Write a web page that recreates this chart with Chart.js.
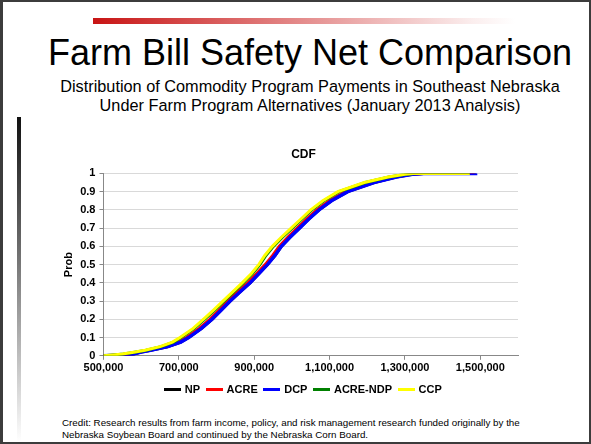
<!DOCTYPE html>
<html>
<head>
<meta charset="utf-8">
<script src="https://cdn.jsdelivr.net/npm/chart.js@4"></script>
<style>
    html, body { margin: 0; padding: 0; background: #fff; }
    body { width: 591px; height: 444px; position: relative; overflow: hidden; font-family: "Liberation Sans", Arial, sans-serif; }
    .slide { position: absolute; left: 0; top: 0; width: 591px; height: 444px; box-sizing: border-box; border: 2px solid #3c3c3c; border-left-width: 3px; }
    .red-bar { position: absolute; left: 93px; top: 18px; width: 422px; height: 6px; background: linear-gradient(to right, #c81414, #fbeeee 90%, #ffffff); }
    .side-bar { position: absolute; left: 17px; top: 117px; width: 4px; height: 325px; background: linear-gradient(to bottom, #111, #777 45%, #fff); }
    .title { position: absolute; left: 0; width: 620px; top: 32px; text-align: center; font-size: 36px; color: #000; white-space: nowrap; }
    .subtitle { position: absolute; left: 0; width: 620px; top: 77px; text-align: center; font-size: 16.3px; line-height: 18.8px; color: #000; white-space: nowrap; }
    .credit { position: absolute; left: 62px; top: 417px; font-size: 9.8px; line-height: 12px; color: #000; white-space: nowrap; }
    #wrap { position: absolute; left: 58px; top: 142px; width: 492px; height: 263px; }
</style>
</head>
<body>
<div class="slide"></div>
<div class="red-bar"></div>
<div class="side-bar"></div>
<div class="title">Farm Bill Safety Net Comparison</div>
<div class="subtitle">Distribution of Commodity Program Payments in Southeast Nebraska<br>Under Farm Program Alternatives (January 2013 Analysis)</div>
<div id="wrap"><canvas id="cdf"></canvas></div>
<div class="credit">Credit: Research results from farm income, policy, and risk management research funded originally by the<br>Nebraska Soybean Board and continued by the Nebraska Corn Board.</div>
<script>
// cumulative probability levels shared by every series
const PROB = [0, 0.005, 0.01, 0.02, 0.03, 0.05, 0.075, 0.1, 0.15, 0.2, 0.25, 0.3, 0.35, 0.4, 0.45, 0.5,
    0.55, 0.6, 0.65, 0.7, 0.75, 0.8, 0.85, 0.9, 0.95, 0.98, 0.995, 1, 1];

// payment ($) reached at each probability level
const NP = [500000, 560000, 580000, 600000, 625000, 670000, 705000, 726000, 760000, 788000, 812000, 836000, 862000, 889000, 912000, 935000,
    955000, 972000, 995000, 1020000, 1045000, 1072000, 1105000, 1148000, 1218000, 1277000, 1320000, 1350000, 1490000];
const ACRE = [500000, 555000, 575000, 596000, 620000, 665000, 700000, 720000, 754000, 782000, 806000, 830000, 856000, 883000, 906000, 929000,
    949000, 966000, 989000, 1014000, 1039000, 1066000, 1099000, 1142000, 1212000, 1272000, 1315000, 1345000, 1485000];
const DCP = [500000, 560000, 580000, 600000, 625000, 670000, 705000, 726000, 760000, 788000, 812000, 836000, 862000, 889000, 912000, 935000,
    955000, 972000, 995000, 1020000, 1045000, 1072000, 1105000, 1148000, 1218000, 1277000, 1320000, 1350000, 1492000];
const ACRE_NDP = [500000, 528000, 553000, 583000, 613000, 653000, 686000, 706000, 741000, 768000, 795000, 820000, 846000, 871000, 895000, 915000,
    931000, 951000, 975000, 1001000, 1027000, 1053000, 1085000, 1125000, 1195000, 1258000, 1303000, 1325000, 1472000];
const CCP = [500000, 525000, 550000, 580000, 610000, 650000, 683000, 703000, 738000, 765000, 792000, 817000, 843000, 868000, 892000, 912000,
    928000, 948000, 972000, 998000, 1024000, 1050000, 1082000, 1122000, 1192000, 1255000, 1300000, 1322000, 1472000];

const SERIES = ['NP', 'ACRE', 'DCP', 'ACRE-NDP', 'CCP'];
const X_TICKS = [500000, 700000, 900000, 1100000, 1300000, 1500000];
const Y_TICKS = [0, 0.1, 0.2, 0.3, 0.4, 0.5, 0.6, 0.7, 0.8, 0.9, 1];

const colors = ['#000000', '#ff0000', '#0000ff', '#008000', '#ffff00'];
const widths = [3, 3, 3.5, 3, 3];
const values = [NP, ACRE, DCP, ACRE_NDP, CCP];
const font = { family: '"Liberation Sans", Arial, sans-serif', weight: 'bold', size: 11 };

// small line swatches for the legend (17px long, sitting right against the label)
const swatches = colors.map(c => {
    const cv = document.createElement('canvas');
    cv.width = 17; cv.height = 3;
    const g = cv.getContext('2d');
    g.fillStyle = c;
    g.fillRect(0, 0, 17, 3);
    return cv;
});

const datasets = SERIES.map((name, i) => ({
    label: name,
    data: values[i].map((v, k) => ({ x: v, y: PROB[k] })),
    borderColor: colors[i],
    backgroundColor: colors[i],
    borderWidth: widths[i],
    pointRadius: 0,
    tension: 0,
    order: SERIES.length - i   // later series drawn on top, like the original
}));

// the Excel chart centres title and legend on the whole chart object, not the padded box
const recenter = {
    id: 'recenter',
    afterLayout(chart) {
        [chart.legend, chart.titleBlock].forEach(b => { if (b) { b.left += 14; b.right += 14; } });
    }
};

new Chart(document.getElementById('cdf'), {
    type: 'line',
    data: { datasets },
    plugins: [recenter],
    options: {
        responsive: true,
        maintainAspectRatio: false,
        animation: false,
        layout: { padding: { left: 3, right: 32, top: 0, bottom: 0 } },
        plugins: {
            title: { display: true, text: 'CDF', color: '#000', font: { ...font, size: 12 }, padding: { top: 5, bottom: 12 } },
            legend: {
                position: 'bottom',
                labels: {
                    color: '#000', font, usePointStyle: true, pointStyleWidth: 14,
                    padding: 7, boxHeight: 11,
                    sort: (a, b) => a.datasetIndex - b.datasetIndex,
                    generateLabels: chart => Chart.defaults.plugins.legend.labels.generateLabels(chart)
                        .map(item => ({ ...item, pointStyle: swatches[item.datasetIndex] }))
                }
            },
            tooltip: { enabled: false }
        },
        scales: {
            x: {
                type: 'linear', min: 500000, max: 1600000,
                afterBuildTicks: axis => { axis.ticks = X_TICKS.map(v => ({ value: v })); },
                grid: { drawOnChartArea: false, drawTicks: true, tickLength: 4, tickColor: '#888' },
                border: { color: '#888' },
                ticks: { color: '#000', font, maxRotation: 0, padding: 2, callback: v => v.toLocaleString('en-US') }
            },
            y: {
                min: 0, max: 1,
                afterBuildTicks: axis => { axis.ticks = Y_TICKS.map(v => ({ value: v })); },
                grid: { color: '#d9d9d9', tickLength: 4, tickColor: '#888' },
                border: { color: '#888' },
                title: { display: true, text: 'Prob', color: '#000', font, padding: 1 },
                ticks: { color: '#000', font, padding: 4, callback: v => String(+v.toFixed(1)) }
            }
        }
    }
});
</script>
</body>
</html>
